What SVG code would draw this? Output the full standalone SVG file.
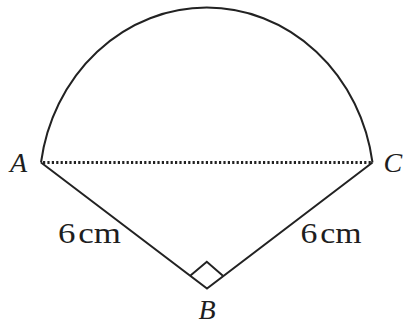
<svg xmlns="http://www.w3.org/2000/svg" width="403" height="330" viewBox="0 0 403 330">
<style>
.ln{fill:none;stroke:#222;stroke-width:2;stroke-linejoin:miter}
.dot{fill:none;stroke:#222;stroke-width:3;stroke-dasharray:2.2 2.2}
.lbl{font-family:'Liberation Serif','Times New Roman',Times,serif;font-style:italic;font-size:28px;fill:#1e1e1e}
.dim{font-family:'Liberation Serif','Times New Roman',Times,serif;font-size:30px;fill:#1e1e1e}
</style>
<rect width="403" height="330" fill="#fff"/>
<g id="connectors">
<path class="ln" d="M41 162.5 A167.5 181 0 0 1 372.5 162.5"/>
<line class="dot" x1="43" y1="162.5" x2="371" y2="162.5"/>
<path class="ln" d="M372.5 162.5 L207 288.5 L41 162.5"/>
<path class="ln" d="M190.5 275.6 L206.8 261.8 L222.9 275.7"/>
</g>
<g id="A"><text class="lbl" x="10" y="172">A</text></g>
<g id="B"><text class="lbl" x="198.5" y="319">B</text></g>
<g id="C"><text class="lbl" x="383.5" y="172">C</text></g>
<g id="labelAB"><text class="dim" x="58" y="243" textLength="63" lengthAdjust="spacingAndGlyphs" word-spacing="-5">6 cm</text></g>
<g id="labelBC"><text class="dim" x="300.5" y="243" textLength="61" lengthAdjust="spacingAndGlyphs" word-spacing="-5">6 cm</text></g>
</svg>
